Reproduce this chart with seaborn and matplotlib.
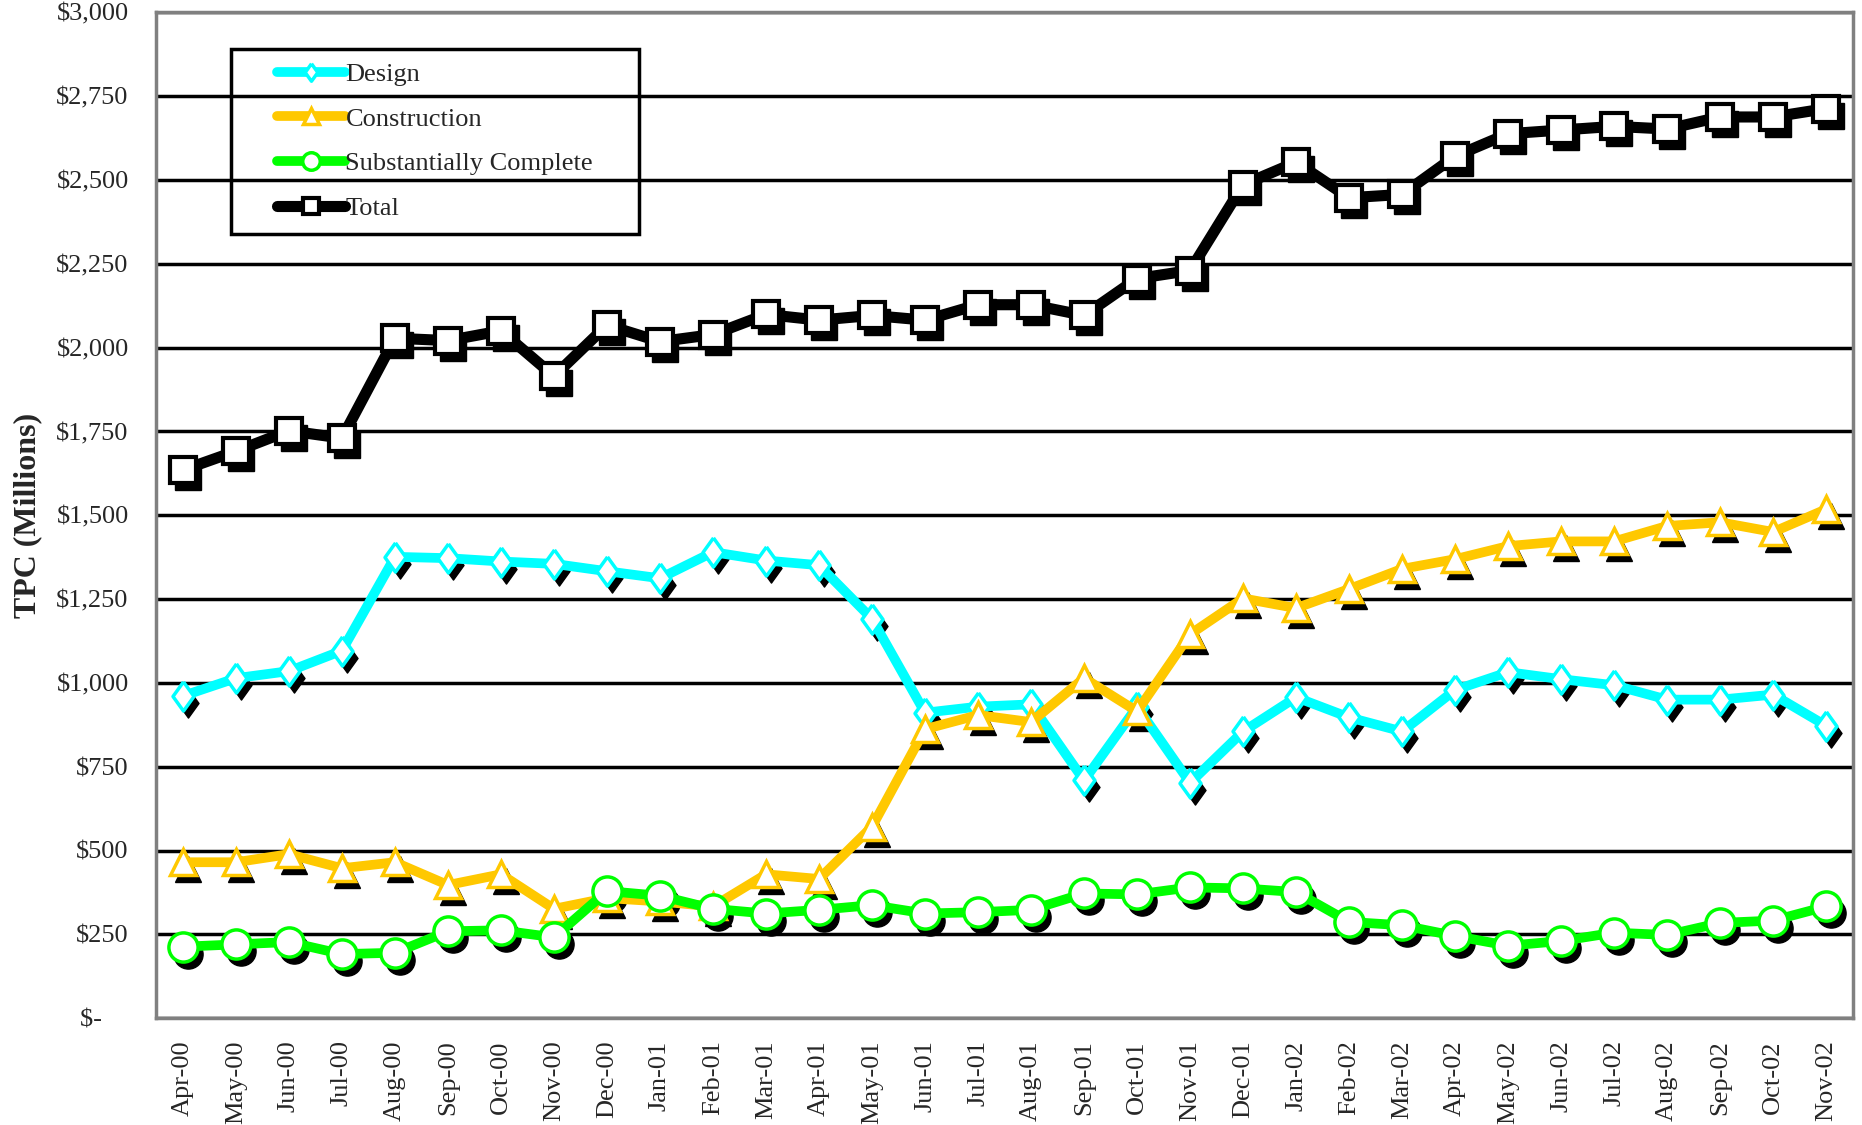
import numpy as np
import pandas as pd
import matplotlib
matplotlib.use("Agg")
import matplotlib.pyplot as plt
import matplotlib.transforms as mtransforms
from matplotlib.patches import Rectangle
from matplotlib.ticker import FuncFormatter, MultipleLocator
import seaborn as sns

# month labels
months = ["Apr-00", "May-00", "Jun-00", "Jul-00", "Aug-00", "Sep-00", "Oct-00", "Nov-00",
          "Dec-00", "Jan-01", "Feb-01", "Mar-01", "Apr-01", "May-01", "Jun-01", "Jul-01",
          "Aug-01", "Sep-01", "Oct-01", "Nov-01", "Dec-01", "Jan-02", "Feb-02", "Mar-02",
          "Apr-02", "May-02", "Jun-02", "Jul-02", "Aug-02", "Sep-02", "Oct-02", "Nov-02"]

# TPC values ($ millions)
design = [961, 1014, 1035, 1096, 1376, 1372, 1362, 1355, 1333, 1312, 1390, 1365, 1351, 1191,
          911, 929, 936, 709, 929, 702, 855, 957, 897, 855, 979, 1032, 1011, 993, 950, 950,
          965, 872]
construction = [465, 465, 489, 447, 465, 397, 429, 326, 358, 348, 333, 429, 415, 571, 862,
                904, 883, 1014, 915, 1145, 1252, 1223, 1280, 1340, 1369, 1408, 1422, 1422,
                1468, 1479, 1450, 1518]
complete = [213, 220, 227, 191, 195, 259, 262, 241, 379, 365, 326, 312, 323, 337, 312, 316,
            323, 372, 369, 390, 387, 376, 287, 277, 245, 216, 230, 255, 248, 284, 291, 333]
total = [1635, 1691, 1752, 1730, 2028, 2021, 2050, 1915, 2067, 2018, 2039, 2099, 2082, 2096,
         2082, 2128, 2128, 2096, 2206, 2230, 2486, 2553, 2447, 2457, 2571, 2638, 2649, 2660,
         2652, 2688, 2688, 2713]

series_names = ["Design", "Construction", "Substantially Complete", "Total"]
series_vals = [design, construction, complete, total]
colors = ["#00FFFF", "#FFC800", "#00FF00", "#000000"]
# tall diamond like the Excel marker
tall_diamond = [(0, 1), (0.72, 0), (0, -1), (-0.72, 0), (0, 1)]
markers = [tall_diamond, "^", "o", "s"]
msizes = [21, 19, 21, 19]
lwidths = [7, 7, 7, 8]

sns.set_style("white")
plt.rcParams["font.family"] = ["Liberation Serif", "DejaVu Serif"]

fig = plt.figure(figsize=(18.62, 11.25), dpi=100)
ax = fig.add_axes([0.084, 0.095, 0.911, 0.894])

x = np.arange(len(months))
shadow = ax.transData + mtransforms.ScaledTranslation(5 / 100, -7 / 100, fig.dpi_scale_trans)

for name, vals, c, m, ms, lw in zip(series_names, series_vals, colors, markers, msizes, lwidths):
    ax.plot(x, vals, linestyle="none", marker=m, markersize=ms, color="black",
            transform=shadow, zorder=2)
    df = pd.DataFrame({"x": x, "y": vals})
    sns.lineplot(data=df, x="x", y="y", ax=ax, color=c, linewidth=lw, marker=m,
                 markersize=ms, markerfacecolor="white", markeredgecolor=c,
                 markeredgewidth=2.5 if c != "#000000" else 3, label=name, zorder=3)

ax.set_ylim(0, 3000)
ax.set_xlim(-0.5, len(months) - 0.5)
ax.yaxis.set_major_locator(MultipleLocator(250))
ax.yaxis.set_major_formatter(FuncFormatter(lambda v, p: "$-    " if v == 0 else f"${v:,.0f}"))
ax.grid(axis="y", color="black", linewidth=2.5)
ax.set_axisbelow(True)
for sp in ax.spines.values():
    sp.set_color("#808080")
    sp.set_linewidth(2.5)

ax.set_xticks(x)
ax.set_xticklabels(months, rotation=90, fontsize=19)
ax.tick_params(axis="x", length=0, pad=16)
ax.tick_params(axis="y", length=0, pad=20, labelsize=19)
ax.set_xlabel("")
ax.set_ylabel("TPC (Millions)", fontsize=23, fontweight="bold", labelpad=10)

leg = ax.legend(loc="upper left", bbox_to_anchor=(0.071, 0.95), fontsize=19,
                frameon=False, handlelength=2.6, handletextpad=0.0, borderpad=0.0,
                labelspacing=0.8, borderaxespad=0, markerscale=0.6)
for t in leg.get_texts():
    t.set_ha("left")

# box round the legend, wider on the sides like the original
fig.canvas.draw()
bb = leg.get_window_extent()
inv = fig.transFigure.inverted()
(x0, y0), (x1, y1) = inv.transform([[bb.x0 - 46, bb.y0 - 14], [bb.x1 + 46, bb.y1 + 14]])
fig.patches.append(Rectangle((x0, y0), x1 - x0, y1 - y0, transform=fig.transFigure,
                             fill=False, edgecolor="black", linewidth=2.5, zorder=5))

fig.savefig("out.png", dpi=100)
